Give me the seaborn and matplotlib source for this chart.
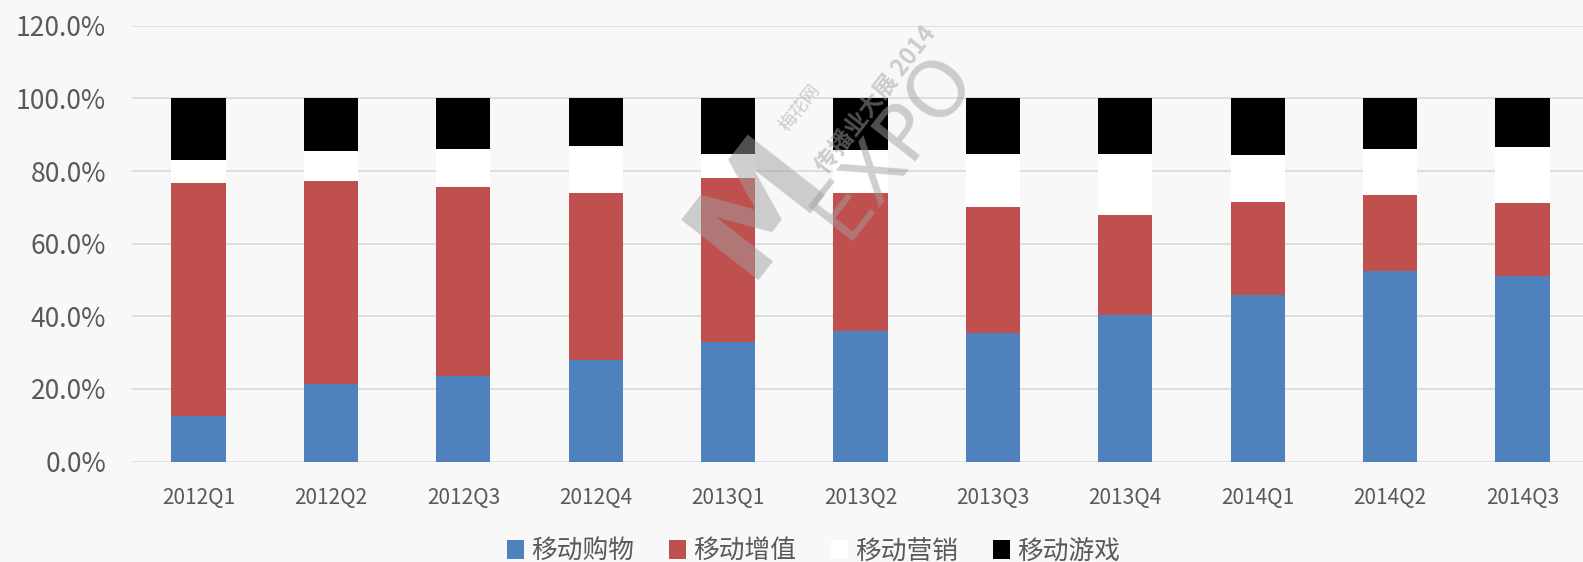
import numpy as np
import pandas as pd
import matplotlib
matplotlib.use("Agg")
import matplotlib.pyplot as plt
from matplotlib.patches import Patch
import seaborn as sns

categories = ["2012Q1", "2012Q2", "2012Q3", "2012Q4", "2013Q1", "2013Q2",
              "2013Q3", "2013Q4", "2014Q1", "2014Q2", "2014Q3"]
series_names = ["移动购物", "移动增值", "移动营销", "移动游戏"]
shopping = [12.6, 21.5, 23.5, 27.9, 32.8, 35.9, 35.5, 40.5, 45.8, 52.5, 51.0]
value_added = [64.0, 55.9, 52.1, 46.0, 45.2, 38.2, 34.5, 27.4, 25.6, 21.0, 20.1]
marketing = [6.4, 8.0, 10.6, 13.0, 6.6, 11.7, 14.6, 16.7, 13.0, 12.7, 15.5]
games = [17.0, 14.6, 13.8, 13.1, 15.4, 14.2, 15.4, 15.4, 15.6, 13.8, 13.4]
yticks = [0, 20, 40, 60, 80, 100, 120]
ytick_labels = ["0.0%", "20.0%", "40.0%", "60.0%", "80.0%", "100.0%", "120.0%"]

colors = ["#4F81BD", "#C0504D", "#FFFFFF", "#000000"]

sns.set_theme(style="white")
plt.rcParams["font.family"] = ["Noto Sans CJK SC", "DejaVu Sans"]

bg = "#F8F8F8"
fig = plt.figure(figsize=(15.83, 5.62), dpi=100, facecolor=bg)
ax = fig.add_axes([0.0836, 0.1786, 0.9164, 0.7755])
ax.set_facecolor(bg)

segs = [shopping, value_added, marketing, games]
cum = np.cumsum(np.array(segs), axis=0)
df = pd.DataFrame({"cat": categories})
# draw cumulative bars from tallest to shortest so they stack visually
for i in range(3, -1, -1):
    df["v"] = cum[i]
    sns.barplot(data=df, x="cat", y="v", color=colors[i], saturation=1,
                width=0.41, ax=ax, linewidth=0, zorder=3)

ax.set_ylim(0, 120)
ax.set_xlim(-0.5, 10.457)
ax.set_yticks(yticks)
ax.set_yticklabels(ytick_labels)
ax.set_xlabel("")
ax.set_ylabel("")
ax.grid(axis="y", color="#D9D9D9", linewidth=1.2, zorder=0)
ax.grid(axis="x", visible=False)
ax.set_axisbelow(True)
for s in ax.spines.values():
    s.set_visible(False)
ax.tick_params(axis="y", length=0, pad=19, labelsize=19, labelcolor="#595959")
ax.tick_params(axis="x", length=0, pad=18, labelsize=15, labelcolor="#595959")

handles = [Patch(facecolor=c, edgecolor="none") for c in colors]
fig.legend(handles, series_names, loc="center", bbox_to_anchor=(0.514, 0.019),
           ncol=4, frameon=False, fontsize=18.5, handlelength=0.65, handleheight=0.75,
           handletextpad=0.3, columnspacing=1.35, labelcolor="#595959")

# watermark
wm = dict(color="#A0A0A0", alpha=0.5, rotation=52, ha="center", va="center",
          zorder=10)
fig.text(758 / 1583, 1 - 205 / 562, "M", fontsize=96, fontweight="bold",
         family=["DejaVu Sans"], **wm)
fig.text(893 / 1583, 1 - 145 / 562, "EXPO", fontsize=56,
         family=["DejaVu Sans"], **wm)
fig.text(800 / 1583, 1 - 108 / 562, "梅花网", fontsize=13, **wm)
fig.text(876 / 1583, 1 - 100 / 562, "传播业大展 2014", fontsize=17,
         fontweight="bold", **wm)

fig.savefig("out.png", dpi=100, facecolor=bg)
